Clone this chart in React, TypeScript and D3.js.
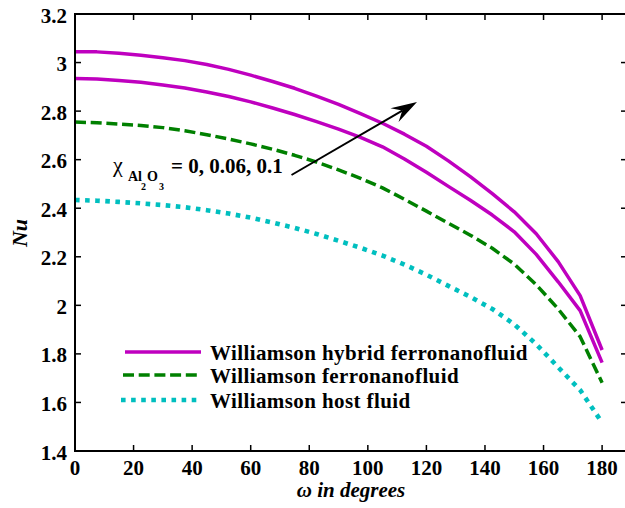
import React from "react";
import * as d3 from "d3";

// Angle samples (degrees) shared by every series
const omega = [
  0, 7.5, 15, 22.5, 30, 37.5, 45, 52.5, 60, 67.5, 75, 82.5, 90,
  97.5, 105, 112.5, 120, 127.5, 135, 142.5, 150, 157.5, 165, 172.5, 180,
];

// Nusselt number, hybrid ferronanofluid (upper: larger Al2O3 fraction)
const nuHybridHigh = [
  3.045, 3.044, 3.038, 3.03, 3.02, 3.008, 2.992, 2.972, 2.948, 2.922, 2.894, 2.862, 2.828,
  2.79, 2.75, 2.705, 2.655, 2.595, 2.53, 2.46, 2.385, 2.295, 2.18, 2.04, 1.816,
];
const nuHybridLow = [
  2.934, 2.932, 2.926, 2.919, 2.908, 2.895, 2.879, 2.86, 2.838, 2.813, 2.786, 2.757, 2.726,
  2.692, 2.653, 2.603, 2.548, 2.49, 2.433, 2.372, 2.303, 2.21, 2.097, 1.978, 1.764,
];
// Ferronanofluid
const nuFerro = [
  2.755, 2.752, 2.747, 2.741, 2.732, 2.719, 2.703, 2.685, 2.665, 2.643, 2.618, 2.59, 2.558,
  2.523, 2.484, 2.437, 2.388, 2.338, 2.289, 2.235, 2.17, 2.085, 1.985, 1.871, 1.681,
];
// Host fluid
const nuHost = [
  2.434, 2.431, 2.426, 2.42, 2.413, 2.404, 2.392, 2.378, 2.361, 2.341, 2.319, 2.294, 2.266,
  2.237, 2.205, 2.168, 2.126, 2.08, 2.035, 1.985, 1.922, 1.84, 1.745, 1.651, 1.517,
];

const xTicks = [0, 20, 40, 60, 80, 100, 120, 140, 160, 180];
const yTicks = [1.4, 1.6, 1.8, 2, 2.2, 2.4, 2.6, 2.8, 3, 3.2];
const legendLabels = [
  "Williamson hybrid ferronanofluid",
  "Williamson ferronanofluid",
  "Williamson host fluid",
];

const MAGENTA = "#bf00bf";
const GREEN = "#008000";
const CYAN = "#00bfbf";

const styles = [
  { color: MAGENTA, width: 3.5, dash: "none" },
  { color: GREEN, width: 3.5, dash: "11,4.7" },
  { color: CYAN, width: 4.6, dash: "4.6,5.5" },
];

const W = 625;
const H = 508;
const left = 75;
const right = 627;
const top = 14;
const bottom = 451;

const FONT = '"Liberation Serif", "Times New Roman", Times, "DejaVu Serif", serif';
const txt = { fontFamily: FONT };

export default function App() {
  const x = d3.scaleLinear().domain([0, 188.5]).range([left, right]);
  const y = d3.scaleLinear().domain([1.4, 3.2]).range([bottom, top]);

  const line = d3
    .line<number>()
    .x((_, i) => x(omega[i]))
    .y((d) => y(d));

  const series = [
    { values: nuHybridHigh, style: styles[0] },
    { values: nuHybridLow, style: styles[0] },
    { values: nuFerro, style: styles[1] },
    { values: nuHost, style: styles[2] },
  ];

  const tickLen = 6;

  // arrow from the annotation towards increasing Al2O3 fraction
  const ax0 = 291.5, ay0 = 175;
  const ax1 = 417, ay1 = 102;
  const ang = Math.atan2(ay1 - ay0, ax1 - ax0);
  const headLen = 26, headHalf = 8, notch = 17;
  const rot = (dx: number, dy: number) => [
    ax1 + dx * Math.cos(ang) - dy * Math.sin(ang),
    ay1 + dx * Math.sin(ang) + dy * Math.cos(ang),
  ];
  const hp1 = rot(-headLen, -headHalf);
  const hp2 = rot(-notch, 0);
  const hp3 = rot(-headLen, headHalf);
  const shaftEnd = rot(-notch, 0);

  return (
    <svg
      width={W}
      height={H}
      style={{ position: "absolute", left: 0, top: 0, background: "#fff", fontFamily: FONT }}
    >
      <rect x={0} y={0} width={W} height={H} fill="#fff" />
      <defs>
        <clipPath id="plotClip">
          <rect x={left} y={top - 5} width={right - left} height={bottom - top + 10} />
        </clipPath>
      </defs>

      {/* data curves */}
      <g clipPath="url(#plotClip)">
        {series.map((s, i) => (
          <path
            key={i}
            d={line(s.values) || ""}
            fill="none"
            stroke={s.style.color}
            strokeWidth={s.style.width}
            strokeDasharray={s.style.dash}
            strokeLinejoin="round"
          />
        ))}
      </g>

      {/* axes box */}
      <rect
        x={left}
        y={top}
        width={right - left}
        height={bottom - top}
        fill="none"
        stroke="#000"
        strokeWidth={2}
      />

      {/* x ticks */}
      {xTicks.map((t) => (
        <g key={"x" + t}>
          <line x1={x(t)} x2={x(t)} y1={bottom} y2={bottom - tickLen} stroke="#000" strokeWidth={1.5} />
          <line x1={x(t)} x2={x(t)} y1={top} y2={top + tickLen} stroke="#000" strokeWidth={1.5} />
          <text
            x={x(t)}
            y={475}
            textAnchor="middle"
            fontSize={21}
            fontWeight="bold"
            fill="#000"
            style={txt}
          >
            {t}
          </text>
        </g>
      ))}

      {/* y ticks */}
      {yTicks.map((t) => (
        <g key={"y" + t}>
          <line x1={left} x2={left + tickLen} y1={y(t)} y2={y(t)} stroke="#000" strokeWidth={1.5} />
          <line x1={right} x2={right - tickLen} y1={y(t)} y2={y(t)} stroke="#000" strokeWidth={1.5} />
          <text
            x={67}
            y={y(t) + 8.5}
            textAnchor="end"
            fontSize={21}
            fontWeight="bold"
            fill="#000"
            style={txt}
          >
            {d3.format("~g")(t)}
          </text>
        </g>
      ))}

      {/* axis titles */}
      <text
        x={351}
        y={497}
        textAnchor="middle"
        fontSize={21}
        fontWeight="bold"
        fontStyle="italic"
        fill="#000"
        style={txt}
      >
        ω in degrees
      </text>
      <text
        transform="translate(27,233) rotate(-90)"
        textAnchor="middle"
        fontSize={22}
        fontWeight="bold"
        fontStyle="italic"
        fill="#000"
        style={txt}
      >
        Nu
      </text>

      {/* legend */}
      {legendLabels.map((lab, i) => {
        const ly = [352, 375, 400][i];
        const st = styles[i];
        return (
          <g key={lab}>
            <line
              x1={i === 0 ? 125 : i === 1 ? 123 : 121}
              x2={i === 0 ? 201 : 197}
              y1={ly}
              y2={ly}
              stroke={st.color}
              strokeWidth={st.width}
              strokeDasharray={st.dash}
            />
            <text
              x={210}
              y={ly + 7.5}
              fontSize={21}
              fontWeight="bold"
              fill="#000"
              style={{ ...txt, letterSpacing: "0.4px" }}
            >
              {lab}
            </text>
          </g>
        );
      })}

      {/* annotation */}
      <text x={113} y={172} fontSize={22} fill="#000" style={txt}>χ</text>
      <text x={128} y={181} fontSize={14} fontWeight="bold" fill="#000" style={txt}>Al</text>
      <text x={141} y={190} fontSize={10} fontWeight="bold" fill="#000" style={txt}>2</text>
      <text x={147} y={181} fontSize={14} fontWeight="bold" fill="#000" style={txt}>O</text>
      <text x={159} y={190} fontSize={10} fontWeight="bold" fill="#000" style={txt}>3</text>
      <text x={171} y={173} fontSize={21} fontWeight="bold" fill="#000" style={txt}>
        = 0, 0.06, 0.1
      </text>
      <line x1={ax0} y1={ay0} x2={shaftEnd[0]} y2={shaftEnd[1]} stroke="#000" strokeWidth={2} />
      <path
        d={`M${ax1},${ay1} L${hp1[0]},${hp1[1]} L${hp2[0]},${hp2[1]} L${hp3[0]},${hp3[1]} Z`}
        fill="#000"
      />
    </svg>
  );
}
